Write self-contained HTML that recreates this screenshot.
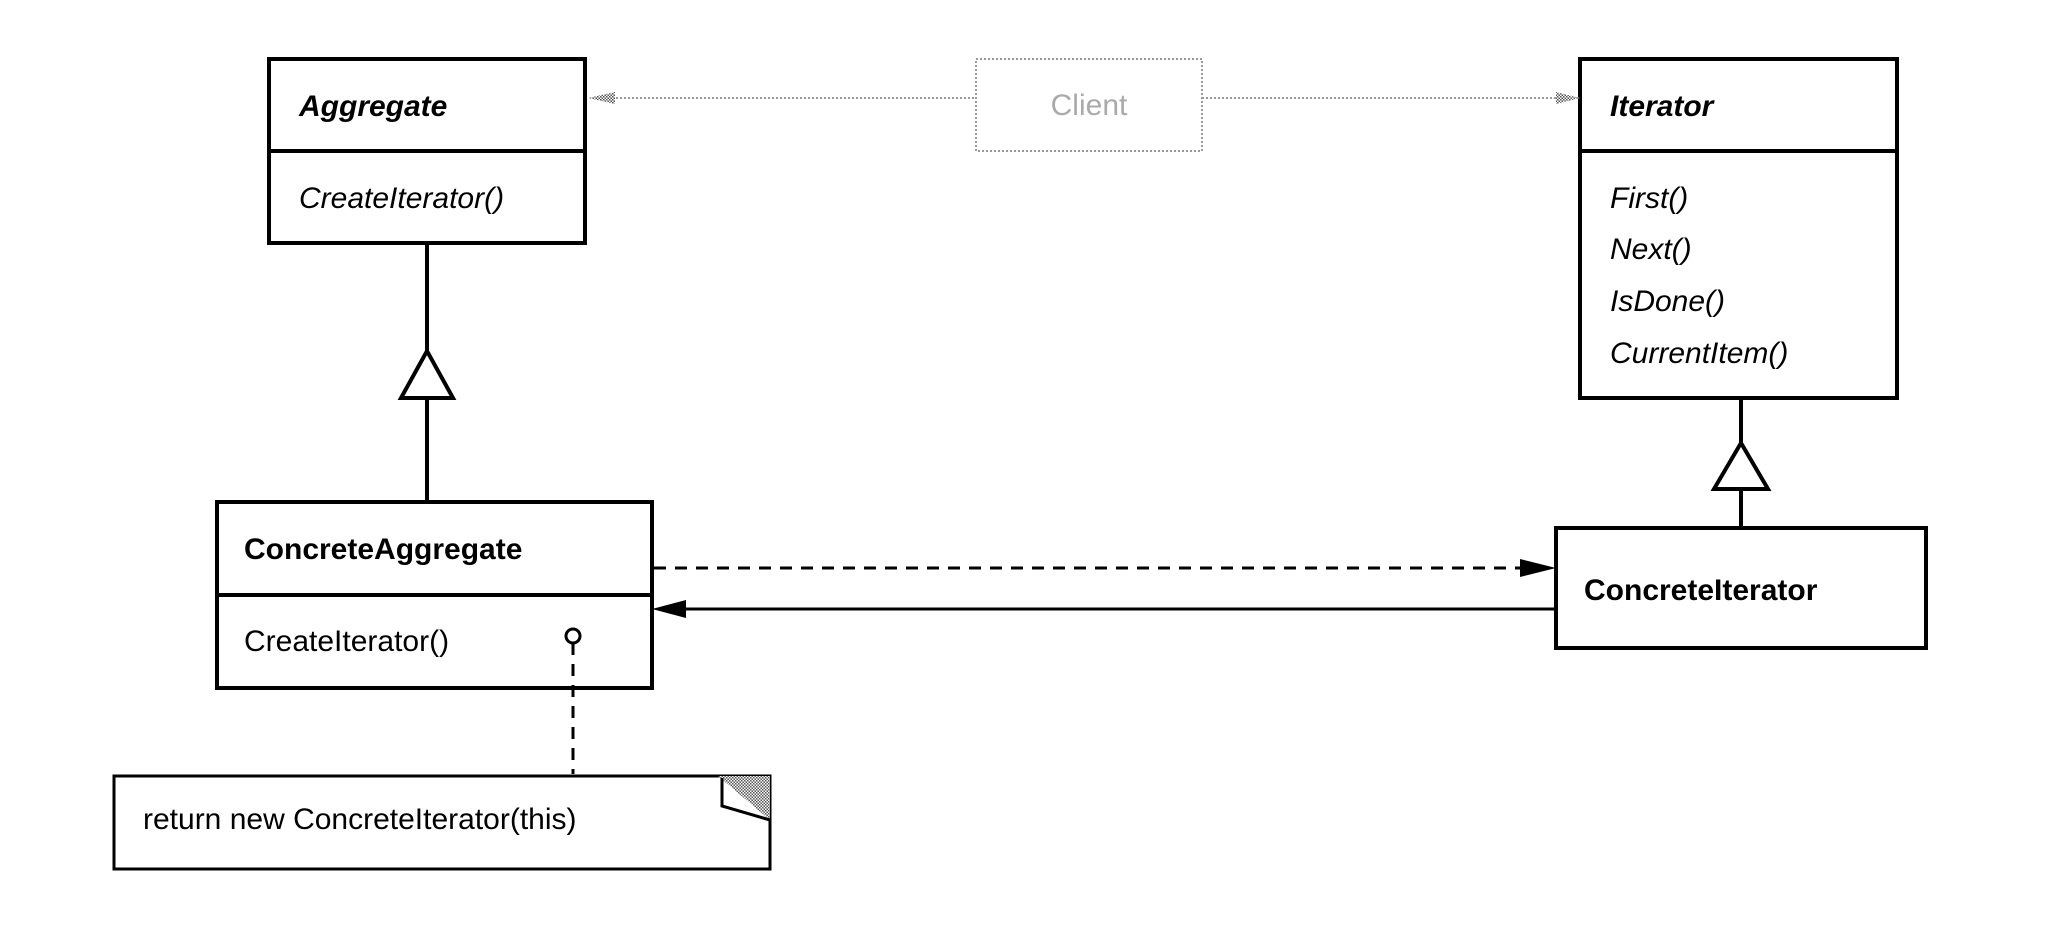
<!DOCTYPE html>
<html><head><meta charset="utf-8"><style>
html,body{margin:0;padding:0;background:#fff;}
svg{display:block;}
text{font-family:"Liberation Sans",Arial,sans-serif;fill:#000;}
</style></head><body>
<svg width="2060" height="932" viewBox="0 0 2060 932" xmlns="http://www.w3.org/2000/svg">
<defs>
<pattern id="hatch" width="3" height="3" patternUnits="userSpaceOnUse"><rect width="3" height="3" fill="#fff"/><rect width="1.5" height="1.5" fill="#555"/><rect x="1.5" y="1.5" width="1.5" height="1.5" fill="#555"/></pattern>
</defs>
<g fill="none" stroke="#000" stroke-width="4">
<!-- Aggregate -->
<rect x="269" y="59" width="316" height="184" fill="#fff"/>
<line x1="269" y1="151" x2="585" y2="151"/>
<!-- Iterator -->
<rect x="1580" y="59" width="317" height="339" fill="#fff"/>
<line x1="1580" y1="151" x2="1897" y2="151"/>
<!-- ConcreteAggregate -->
<rect x="217" y="502" width="435" height="186" fill="#fff"/>
<line x1="217" y1="595" x2="652" y2="595"/>
<!-- ConcreteIterator -->
<rect x="1556" y="528" width="370" height="120" fill="#fff"/>
<!-- Note -->
<rect x="114" y="776" width="656" height="93" fill="#fff" stroke-width="3"/>
<!-- inheritance left -->
<line x1="427" y1="243" x2="427" y2="351"/>
<polygon points="427,351 401,398 453,398" fill="#fff"/>
<line x1="427" y1="398" x2="427" y2="502"/>
<!-- inheritance right -->
<line x1="1741" y1="398" x2="1741" y2="443"/>
<polygon points="1741,443 1714,489 1768,489" fill="#fff"/>
<line x1="1741" y1="489" x2="1741" y2="528"/>
<!-- dashed arrow -->
<line x1="654" y1="568" x2="1522" y2="568" stroke-width="3" stroke-dasharray="12,9"/>
<!-- solid line -->
<line x1="680" y1="609" x2="1556" y2="609" stroke-width="3"/>
<!-- lollipop -->
<circle cx="573" cy="636" r="7" stroke-width="3" fill="#fff"/>
<line x1="573" y1="643" x2="573" y2="774" stroke-width="3" stroke-dasharray="12,9"/>
</g>
<polygon points="1556,568 1520,559 1520,577" fill="#000"/>
<polygon points="652,609 686,600 686,618" fill="#000"/>
<!-- note dog-ear -->
<polygon points="718,776 770,776 770,820" fill="url(#hatch)"/>
<polyline points="722,778 722,806 770,820" fill="none" stroke="#000" stroke-width="3"/>
<!-- Client -->
<g stroke="#999" stroke-width="2" stroke-dasharray="2,2" fill="none">
<rect x="976" y="59" width="226" height="92"/>
<line x1="600" y1="98" x2="976" y2="98"/>
<line x1="1202" y1="98" x2="1570" y2="98"/>
</g>
<polygon points="588,98 615,92 615,104" fill="url(#hatch)"/>
<polygon points="1580,98 1556,92 1556,104" fill="url(#hatch)"/>
<text x="1089" y="115" font-size="30" text-anchor="middle" style="fill:#aaa">Client</text>
<!-- Labels -->
<text x="299" y="116" font-size="30" font-weight="bold" font-style="italic">Aggregate</text>
<text x="299" y="208" font-size="30" font-style="italic">CreateIterator()</text>
<text x="1610" y="116" font-size="30" font-weight="bold" font-style="italic">Iterator</text>
<text x="1610" y="208" font-size="30" font-style="italic">First()</text>
<text x="1610" y="259" font-size="30" font-style="italic">Next()</text>
<text x="1610" y="311" font-size="30" font-style="italic">IsDone()</text>
<text x="1610" y="363" font-size="30" font-style="italic">CurrentItem()</text>
<text x="244" y="559" font-size="30" font-weight="bold">ConcreteAggregate</text>
<text x="244" y="651" font-size="30">CreateIterator()</text>
<text x="1584" y="600" font-size="30" font-weight="bold">ConcreteIterator</text>
<text x="143" y="829" font-size="30">return new ConcreteIterator(this)</text>
</svg>
</body></html>
